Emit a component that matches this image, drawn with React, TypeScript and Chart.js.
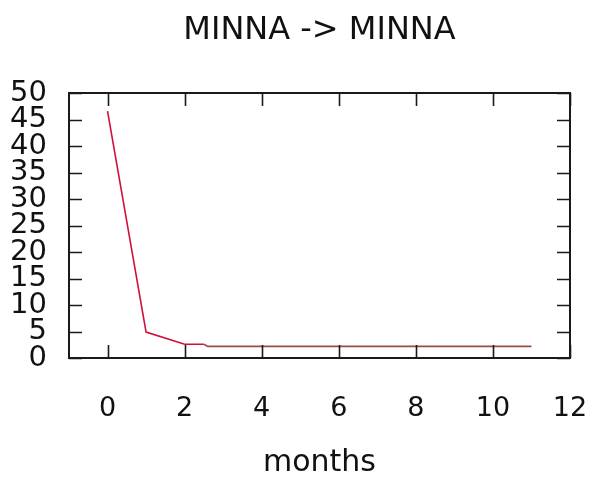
import { useEffect, useRef } from 'react';
import { Chart, registerables } from 'chart.js';

Chart.register(...registerables);

const TITLE = 'MINNA -> MINNA';
const X_TITLE = 'months';

const months = [0, 1, 2, 2.5, 2.6, 3, 4, 5, 6, 7, 8, 9, 10, 11];
const values = [46.6, 4.9, 2.6, 2.6, 2.2, 2.2, 2.2, 2.2, 2.2, 2.2, 2.2, 2.2, 2.2, 2.2];

const xTicks = [0, 2, 4, 6, 8, 10, 12];
const yTicks = [0, 5, 10, 15, 20, 25, 30, 35, 40, 45, 50];

const X_MIN = -1;
const X_MAX = 12;
const Y_MIN = 0;
const Y_MAX = 50;

const FONT = "'DejaVu Sans', sans-serif";

const framePlugin = {
  id: 'gnuFrame',
  afterDatasetsDraw(chart: any) {
    const { ctx, chartArea, scales } = chart;
    const { left, right, top, bottom } = chartArea;
    const TL = 13;
    ctx.save();
    ctx.strokeStyle = '#1a1a1a';
    ctx.lineWidth = 1.6;
    ctx.beginPath();
    xTicks.forEach((v) => {
      const px = Math.round(scales.x.getPixelForValue(v)) + 0.5;
      ctx.moveTo(px, bottom);
      ctx.lineTo(px, bottom - TL);
      ctx.moveTo(px, top);
      ctx.lineTo(px, top + TL);
    });
    yTicks.forEach((v) => {
      const py = Math.round(scales.y.getPixelForValue(v)) + 0.5;
      ctx.moveTo(left, py);
      ctx.lineTo(left + TL, py);
      ctx.moveTo(right, py);
      ctx.lineTo(right - TL, py);
    });
    ctx.stroke();
    ctx.lineWidth = 2;
    ctx.strokeRect(left, top, right - left, bottom - top);
    ctx.restore();
  },
};

export default function App() {
  const canvasRef = useRef<HTMLCanvasElement | null>(null);

  useEffect(() => {
    const canvas = canvasRef.current;
    if (!canvas) return;
    const chart = new Chart(canvas, {
      type: 'line',
      data: {
        datasets: [
          {
            data: months.map((m, i) => ({ x: m, y: values[i] })),
            borderColor: '#d0103a',
            borderWidth: 1.6,
            pointRadius: 0,
            tension: 0,
            fill: false,
            segment: {
              borderColor: (c: any) => (c.p0.parsed.x >= 2.5 ? '#9c4a48' : '#d0103a'),
            },
          },
        ],
      },
      options: {
        responsive: false,
        animation: false,
        layout: { padding: { left: 0, right: 28, top: 0, bottom: 0 } },
        plugins: {
          legend: { display: false },
          tooltip: { enabled: false },
          title: {
            display: true,
            text: TITLE,
            fullSize: false,
            color: '#111',
            font: { family: FONT, size: 32, weight: 'normal' },
            padding: { top: 11, bottom: 43.6 },
          },
        },
        scales: {
          x: {
            type: 'linear',
            min: X_MIN,
            max: X_MAX,
            afterBuildTicks: (s: any) => {
              s.ticks = xTicks.map((v) => ({ value: v }));
            },
            afterFit: (s: any) => {
              s.height = 124;
              s.paddingLeft = 0;
              s.paddingRight = 0;
            },
            grid: { display: false, drawTicks: false },
            border: { display: false },
            ticks: {
              autoSkip: false,
              maxRotation: 0,
              color: '#111',
              padding: 35,
              font: { family: FONT, size: 27 },
            },
            title: {
              display: true,
              text: X_TITLE,
              color: '#111',
              font: { family: FONT, size: 30 },
              padding: { top: 0, bottom: 1 },
            },
          },
          y: {
            type: 'linear',
            min: Y_MIN,
            max: Y_MAX,
            afterBuildTicks: (s: any) => {
              s.ticks = yTicks.map((v) => ({ value: v }));
            },
            afterFit: (s: any) => {
              s.width = 69;
            },
            grid: { display: false, drawTicks: false },
            border: { display: false },
            ticks: {
              autoSkip: false,
              color: '#111',
              padding: 22,
              font: { family: FONT, size: 29 },
            },
          },
        },
      },
      plugins: [framePlugin],
    } as any);
    return () => chart.destroy();
  }, []);

  return (
    <div style={{ position: 'fixed', left: 0, top: 0, width: 598, height: 482, background: '#fff' }}>
      <canvas ref={canvasRef} width={598} height={482} />
    </div>
  );
}
